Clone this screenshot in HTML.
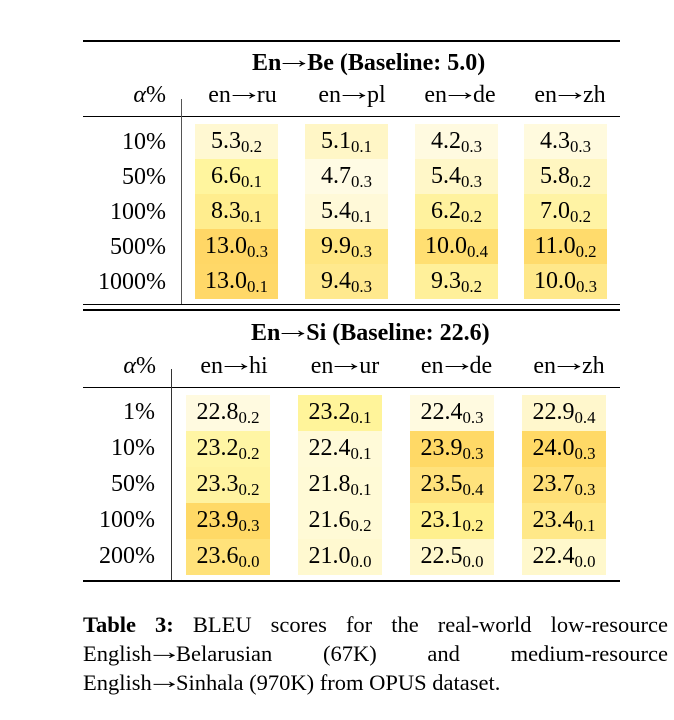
<!DOCTYPE html>
<html><head><meta charset="utf-8">
<style>
html,body{margin:0;padding:0;}
body{width:674px;height:720px;background:#fff;position:relative;overflow:hidden;font-family:"Liberation Serif","DejaVu Serif",serif;color:#000;}
.a{position:absolute;white-space:nowrap;height:30px;line-height:30px;font-size:24px;}
.c{width:200px;margin-left:-100px;text-align:center;}
.r{text-align:right;}
.b{font-weight:bold;}
.ln{position:absolute;background:#000;}
.cell{position:absolute;text-align:center;font-size:24px;white-space:nowrap;}
.s{font-size:0.7em;position:relative;top:4px;}
.cap{position:absolute;left:83px;width:585px;font-size:22.5px;line-height:29px;height:29px;white-space:nowrap;}
.j{text-align:justify;text-align-last:justify;}
.ar{display:inline-block;font-weight:normal;transform:translateY(-0.1em) scaleX(1.6);margin:0 0.04em;}
</style></head><body>

<!-- Table 1 -->
<div class="ln" style="left:83px;top:40px;width:537px;height:2px;"></div>
<div class="a c b" style="left:352px;top:48px;">En<span class="ar">→</span>Be (Baseline: 5.0)</div>
<div class="a r" style="left:66px;width:100px;top:79.5px;"><i>α</i>%</div>
<div class="a c" style="left:242.5px;top:79.5px;">en<span class="ar">→</span>ru</div>
<div class="a c" style="left:352px;top:79.5px;">en<span class="ar">→</span>pl</div>
<div class="a c" style="left:460px;top:79.5px;">en<span class="ar">→</span>de</div>
<div class="a c" style="left:570px;top:79.5px;">en<span class="ar">→</span>zh</div>
<div class="ln" style="left:83px;top:116px;width:537px;height:1.2px;"></div>
<div class="ln" style="left:181px;top:99px;width:1.4px;height:205px;background:#555;"></div>

<div class="a r" style="left:66px;width:100px;top:126.5px;">10%</div>
<div class="a r" style="left:66px;width:100px;top:161.5px;">50%</div>
<div class="a r" style="left:66px;width:100px;top:196.5px;">100%</div>
<div class="a r" style="left:66px;width:100px;top:231.5px;">500%</div>
<div class="a r" style="left:66px;width:100px;top:266.5px;">1000%</div>

<!-- col ru -->
<div class="cell" style="left:195px;width:83px;top:124px;height:35px;line-height:35px;background:#fff8d2;">5.3<span class="s">0.2</span></div>
<div class="cell" style="left:195px;width:83px;top:159px;height:35px;line-height:35px;background:#fff59e;">6.6<span class="s">0.1</span></div>
<div class="cell" style="left:195px;width:83px;top:194px;height:35px;line-height:35px;background:#ffed8e;">8.3<span class="s">0.1</span></div>
<div class="cell" style="left:195px;width:83px;top:229px;height:35px;line-height:35px;background:#ffd766;">13.0<span class="s">0.3</span></div>
<div class="cell" style="left:195px;width:83px;top:264px;height:35px;line-height:35px;background:#ffd868;">13.0<span class="s">0.1</span></div>
<!-- col pl -->
<div class="cell" style="left:305px;width:83px;top:124px;height:35px;line-height:35px;background:#fff6c6;">5.1<span class="s">0.1</span></div>
<div class="cell" style="left:305px;width:83px;top:159px;height:35px;line-height:35px;background:#fffbe4;">4.7<span class="s">0.3</span></div>
<div class="cell" style="left:305px;width:83px;top:194px;height:35px;line-height:35px;background:#fff9d8;">5.4<span class="s">0.1</span></div>
<div class="cell" style="left:305px;width:83px;top:229px;height:35px;line-height:35px;background:#ffe682;">9.9<span class="s">0.3</span></div>
<div class="cell" style="left:305px;width:83px;top:264px;height:35px;line-height:35px;background:#ffe98e;">9.4<span class="s">0.3</span></div>
<!-- col de -->
<div class="cell" style="left:415px;width:83px;top:124px;height:35px;line-height:35px;background:#fffae0;">4.2<span class="s">0.3</span></div>
<div class="cell" style="left:415px;width:83px;top:159px;height:35px;line-height:35px;background:#fff7c8;">5.4<span class="s">0.3</span></div>
<div class="cell" style="left:415px;width:83px;top:194px;height:35px;line-height:35px;background:#fff29e;">6.2<span class="s">0.2</span></div>
<div class="cell" style="left:415px;width:83px;top:229px;height:35px;line-height:35px;background:#ffdf72;">10.0<span class="s">0.4</span></div>
<div class="cell" style="left:415px;width:83px;top:264px;height:35px;line-height:35px;background:#fff09a;">9.3<span class="s">0.2</span></div>
<!-- col zh -->
<div class="cell" style="left:524px;width:83px;top:124px;height:35px;line-height:35px;background:#fffade;">4.3<span class="s">0.3</span></div>
<div class="cell" style="left:524px;width:83px;top:159px;height:35px;line-height:35px;background:#fff6c0;">5.8<span class="s">0.2</span></div>
<div class="cell" style="left:524px;width:83px;top:194px;height:35px;line-height:35px;background:#fff3a4;">7.0<span class="s">0.2</span></div>
<div class="cell" style="left:524px;width:83px;top:229px;height:35px;line-height:35px;background:#ffdb6c;">11.0<span class="s">0.2</span></div>
<div class="cell" style="left:524px;width:83px;top:264px;height:35px;line-height:35px;background:#ffe88a;">10.0<span class="s">0.3</span></div>

<div class="ln" style="left:83px;top:303.5px;width:537px;height:1.6px;"></div>
<div class="ln" style="left:83px;top:309px;width:537px;height:1.6px;"></div>

<!-- Table 2 -->
<div class="a c b" style="left:351px;top:318px;">En<span class="ar">→</span>Si (Baseline: 22.6)</div>
<div class="a r" style="left:56px;width:100px;top:350.5px;"><i>α</i>%</div>
<div class="a c" style="left:234px;top:350.5px;">en<span class="ar">→</span>hi</div>
<div class="a c" style="left:345px;top:350.5px;">en<span class="ar">→</span>ur</div>
<div class="a c" style="left:456.5px;top:350.5px;">en<span class="ar">→</span>de</div>
<div class="a c" style="left:569px;top:350.5px;">en<span class="ar">→</span>zh</div>
<div class="ln" style="left:83px;top:386.7px;width:537px;height:1.2px;"></div>
<div class="ln" style="left:170.7px;top:369px;width:1.3px;height:211px;background:#333;"></div>

<div class="a r" style="left:55px;width:100px;top:397px;">1%</div>
<div class="a r" style="left:55px;width:100px;top:433px;">10%</div>
<div class="a r" style="left:55px;width:100px;top:469px;">50%</div>
<div class="a r" style="left:55px;width:100px;top:505px;">100%</div>
<div class="a r" style="left:55px;width:100px;top:541px;">200%</div>

<!-- col hi -->
<div class="cell" style="left:186px;width:84px;top:395px;height:36px;line-height:34px;background:#fffae0;">22.8<span class="s">0.2</span></div>
<div class="cell" style="left:186px;width:84px;top:431px;height:36px;line-height:34px;background:#fff5a4;">23.2<span class="s">0.2</span></div>
<div class="cell" style="left:186px;width:84px;top:467px;height:36px;line-height:34px;background:#fff3a0;">23.3<span class="s">0.2</span></div>
<div class="cell" style="left:186px;width:84px;top:503px;height:36px;line-height:34px;background:#ffd966;">23.9<span class="s">0.3</span></div>
<div class="cell" style="left:186px;width:84px;top:539px;height:36px;line-height:34px;background:#ffe27a;">23.6<span class="s">0.0</span></div>
<!-- col ur -->
<div class="cell" style="left:298px;width:84px;top:395px;height:36px;line-height:34px;background:#fff49a;">23.2<span class="s">0.1</span></div>
<div class="cell" style="left:298px;width:84px;top:431px;height:36px;line-height:34px;background:#fffad8;">22.4<span class="s">0.1</span></div>
<div class="cell" style="left:298px;width:84px;top:467px;height:36px;line-height:34px;background:#fffad6;">21.8<span class="s">0.1</span></div>
<div class="cell" style="left:298px;width:84px;top:503px;height:36px;line-height:34px;background:#fffad6;">21.6<span class="s">0.2</span></div>
<div class="cell" style="left:298px;width:84px;top:539px;height:36px;line-height:34px;background:#fff9d0;">21.0<span class="s">0.0</span></div>
<!-- col de -->
<div class="cell" style="left:410px;width:84px;top:395px;height:36px;line-height:34px;background:#fffae0;">22.4<span class="s">0.3</span></div>
<div class="cell" style="left:410px;width:84px;top:431px;height:36px;line-height:34px;background:#ffd966;">23.9<span class="s">0.3</span></div>
<div class="cell" style="left:410px;width:84px;top:467px;height:36px;line-height:34px;background:#ffe27c;">23.5<span class="s">0.4</span></div>
<div class="cell" style="left:410px;width:84px;top:503px;height:36px;line-height:34px;background:#fff08e;">23.1<span class="s">0.2</span></div>
<div class="cell" style="left:410px;width:84px;top:539px;height:36px;line-height:34px;background:#fff8cc;">22.5<span class="s">0.0</span></div>
<!-- col zh -->
<div class="cell" style="left:522px;width:84px;top:395px;height:36px;line-height:34px;background:#fff7cc;">22.9<span class="s">0.4</span></div>
<div class="cell" style="left:522px;width:84px;top:431px;height:36px;line-height:34px;background:#ffd966;">24.0<span class="s">0.3</span></div>
<div class="cell" style="left:522px;width:84px;top:467px;height:36px;line-height:34px;background:#ffe078;">23.7<span class="s">0.3</span></div>
<div class="cell" style="left:522px;width:84px;top:503px;height:36px;line-height:34px;background:#ffe888;">23.4<span class="s">0.1</span></div>
<div class="cell" style="left:522px;width:84px;top:539px;height:36px;line-height:34px;background:#fff8cc;">22.4<span class="s">0.0</span></div>

<div class="ln" style="left:83px;top:580px;width:537px;height:2px;"></div>

<!-- Caption -->
<div class="cap j" style="top:609.5px;"><b>Table 3:</b> BLEU scores for the real-world low-resource</div>
<div class="cap j" style="top:638.5px;">English<span class="ar">→</span>Belarusian (67K) and medium-resource</div>
<div class="cap" style="top:667.5px;">English<span class="ar">→</span>Sinhala (970K) from OPUS dataset.</div>

</body></html>
